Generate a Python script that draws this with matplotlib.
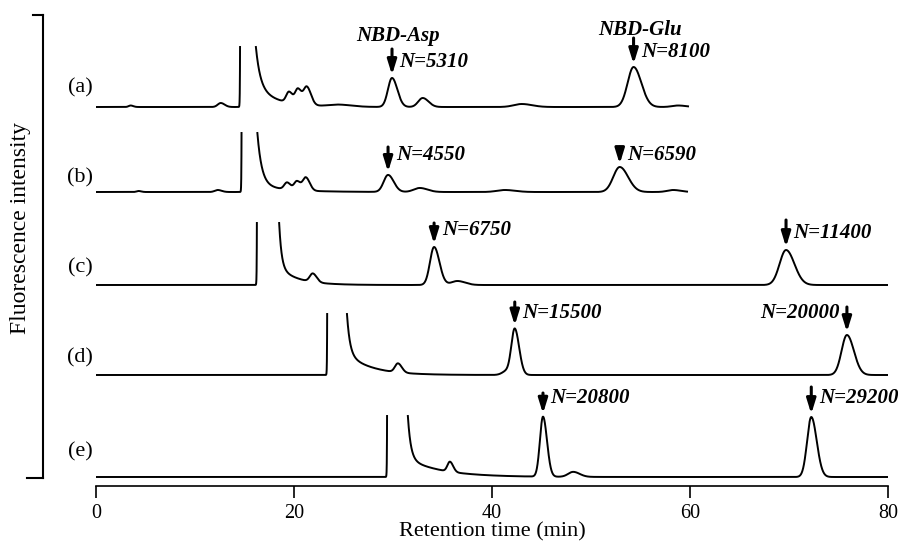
import numpy as np
import matplotlib
matplotlib.use('Agg')
import matplotlib.pyplot as plt
from matplotlib.lines import Line2D

plt.rcParams['font.family'] = ['Liberation Serif', 'DejaVu Serif']

# ------------------------------------------------------------------ data
trace_labels = ['(a)', '(b)', '(c)', '(d)', '(e)']
run_end = [59.8, 59.7, 80.0, 80.0, 80.0]          # min

# solvent front (goes off-scale between start and return)
solvent_start = [14.55, 14.7, 16.25, 23.35, 29.4]
solvent_return = [16.15, 16.3, 18.5, 25.35, 31.5]
offscale_level = [60, 59, 62, 61, 61]
solvent_tail_fast = [40, 52, 45, 40, 43]
solvent_tau_fast = [0.45, 0.45, 0.25, 0.3, 0.3]
solvent_tail_slow = [20, 7, 17, 21, 18]
solvent_tau_slow = [2.2, 3.0, 2.0, 2.5, 3.5]

# peak tables: retention time (min), height, width (sigma, min)
peak_times = [
    [3.5, 12.6, 19.5, 20.4, 21.3, 24.5, 29.9, 33.0, 43.0, 54.3, 58.8],
    [4.3, 12.3, 19.3, 20.3, 21.2, 29.5, 32.7, 41.3, 52.9, 58.3],
    [21.9, 34.15, 36.5, 69.7],
    [30.5, 41.5, 42.3, 75.85],
    [35.75, 45.15, 48.2, 72.25],
]
peak_heights = [
    [1.5, 4, 11, 15, 18, 2, 29, 9, 3, 40, 1.5],
    [1, 2, 7, 9, 13, 17, 4, 2, 25, 2],
    [8.5, 38, 4, 35],
    [9, 4, 45, 40],
    [10, 60, 5, 60],
]
peak_widths = [
    [0.2, 0.3, 0.28, 0.28, 0.32, 1.0, 0.41, 0.45, 0.8, 0.60, 0.6],
    [0.2, 0.3, 0.28, 0.28, 0.3, 0.44, 0.6, 0.8, 0.65, 0.6],
    [0.3, 0.415, 0.6, 0.65],
    [0.3, 0.45, 0.34, 0.54],
    [0.25, 0.31, 0.5, 0.42],
]

asp_times = [29.9, 29.5, 34.15, 42.3, 45.15]
glu_times = [54.3, 52.9, 69.7, 75.85, 72.25]
asp_plates = [5310, 4550, 6750, 15500, 20800]
glu_plates = [8100, 6590, 11400, 20000, 29200]

x_ticks = [0, 20, 40, 60, 80]

# ------------------------------------------------------------------ layout (pixel rows)
FIG_W, FIG_H = 898, 542
AX_BOTTOM_PX = 486
baseline_px = [107, 192, 285, 375, 477]
label_px = [88, 178, 268, 358, 452]
asp_arrow_top_px = [49, 147, 223, 302, 393]
glu_arrow_top_px = [38, 147, 220, 307, 387]
asp_text_px = [62, 155, 230, 313, 398]
glu_text_px = [52, 155, 233, 313, 398]
glu_text_side = ['right', 'right', 'right', 'left', 'right']


def py(p):
    return AX_BOTTOM_PX - p


def chromatogram(t, i):
    y = np.zeros_like(t)
    for tr, h, s in zip(peak_times[i], peak_heights[i], peak_widths[i]):
        sig = np.where(t < tr, s, s * 1.3)
        y += h * np.exp(-0.5 * ((t - tr) / sig) ** 2)
    t1, t2 = solvent_start[i], solvent_return[i]
    clip = offscale_level[i]
    d2 = np.clip(t - t2, 0, None)
    tail = (solvent_tail_fast[i] * np.exp(-d2 / solvent_tau_fast[i])
            + solvent_tail_slow[i] * np.exp(-d2 / solvent_tau_slow[i]))
    rise = clip * np.exp(np.clip(t - t1, None, 0) / 0.02)
    solv = np.where(t < t1, rise, np.where(t < t2, 10 * clip, tail))
    y = y + solv
    over = y >= clip
    y = np.minimum(y, clip)
    interior = np.zeros_like(over)
    interior[1:-1] = over[1:-1] & over[:-2] & over[2:]
    y[interior] = np.nan
    return y


fig = plt.figure(figsize=(FIG_W / 100, FIG_H / 100), dpi=100)
ax = fig.add_axes([96 / FIG_W, (FIG_H - AX_BOTTOM_PX) / FIG_H,
                   (888 - 96) / FIG_W, AX_BOTTOM_PX / FIG_H])
ax.set_xlim(0, 80)
ax.set_ylim(0, AX_BOTTOM_PX)
for s in ['left', 'top', 'right']:
    ax.spines[s].set_visible(False)
ax.spines['bottom'].set_linewidth(1.2)
ax.set_yticks([])
ax.set_xticks(x_ticks)
ax.tick_params(axis='x', direction='out', length=8.6, width=1.2,
               labelsize=14.5, pad=4)
ax.set_xlabel('Retention time (min)', fontsize=16)
ax.xaxis.label.set_va('center')
ax.xaxis.set_label_coords(0.5, (AX_BOTTOM_PX - 531.5) / AX_BOTTOM_PX)

arrow_kw = dict(arrowstyle='-|>,head_length=0.55,head_width=0.17',
                mutation_scale=16, lw=2.2, color='black',
                shrinkA=0, shrinkB=0)
ann_font = dict(fontsize=15, fontweight='bold', fontstyle='italic')

for i in range(5):
    t = np.arange(0, run_end[i] + 1e-9, 0.01)
    sig = chromatogram(t, i)
    base = py(baseline_px[i])
    ax.plot(t, base + sig, color='black', lw=1.4, solid_joinstyle='round')
    ax.text(-0.3, py(label_px[i]), trace_labels[i], ha='right', va='center',
            fontsize=16, clip_on=False)

    for (tp, plates, top_px, text_px, side, is_glu) in [
            (asp_times[i], asp_plates[i], asp_arrow_top_px[i], asp_text_px[i], 'right', False),
            (glu_times[i], glu_plates[i], glu_arrow_top_px[i], glu_text_px[i], glu_text_side[i], True)]:
        win = (t > tp - 0.5) & (t < tp + 0.5)
        top = base + np.nanmax(sig[win])
        tip = top + 3
        ax.annotate('', xy=(tp, tip), xytext=(tp, py(top_px)),
                    arrowprops=arrow_kw, annotation_clip=False)
        dx = 5.5 if side == 'right' else -5.5
        ax.annotate(f'N={plates}', xy=(tp, py(text_px)), xytext=(dx, 0),
                    textcoords='offset points', ha='left' if side == 'right' else 'right',
                    va='center', annotation_clip=False, **ann_font)
        if i == 0:
            name = 'NBD-Glu' if is_glu else 'NBD-Asp'
            name_base_px = 35 if is_glu else 41
            ax.annotate(name, xy=(tp, py(name_base_px)), xytext=(4.5, 0),
                        textcoords='offset points', ha='center', va='baseline',
                        annotation_clip=False, **ann_font)

# bracket for the intensity axis
def fl(x, y):
    return x / FIG_W, 1 - y / FIG_H

for (x0, y0, x1, y1) in [(43, 15, 43, 478), (33, 15, 43, 15), (27, 478, 43, 478)]:
    a, b = fl(x0, y0)
    c, d = fl(x1, y1)
    fig.add_artist(Line2D([a, c], [b, d], color='black', lw=1.5,
                          solid_capstyle='projecting'))

fx, fy = fl(21, 228)
fig.text(fx, fy, 'Fluorescence intensity', rotation=90, ha='center',
         va='center', fontsize=17)

fig.savefig('out.png', dpi=100)
